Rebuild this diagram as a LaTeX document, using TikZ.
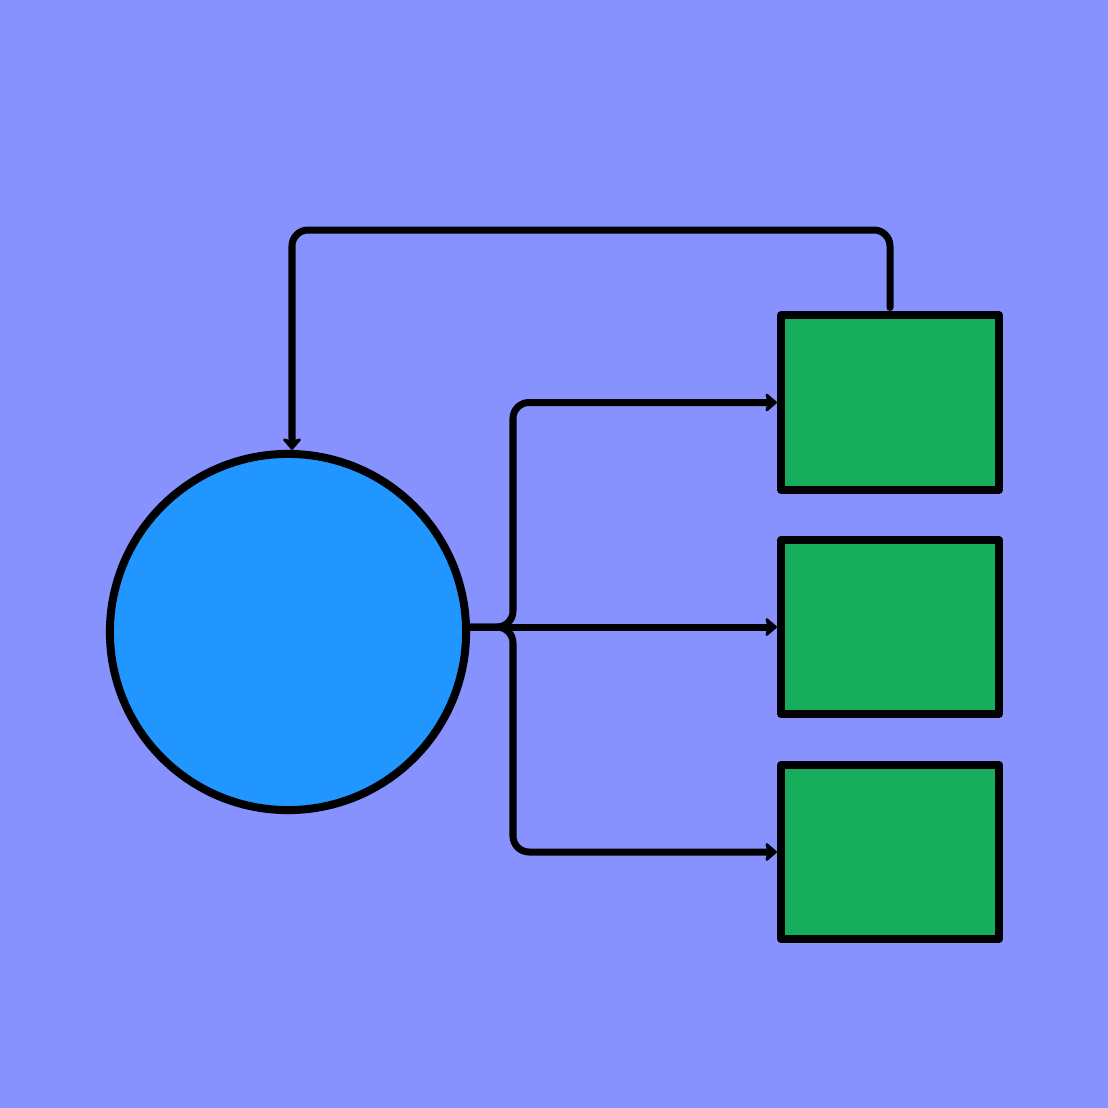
\documentclass[tikz,border=0pt]{standalone}
\usetikzlibrary{arrows.meta}
\definecolor{bgcol}{HTML}{8892FF}
\definecolor{circcol}{HTML}{2196FF}
\definecolor{boxcol}{HTML}{16AD5C}
\begin{document}
\begin{tikzpicture}[x=0.01cm,y=-0.01cm,
  boxnode/.style={draw=black, fill=boxcol, line width=0.08cm, line join=round, minimum width=2.18cm, minimum height=1.74cm, inner sep=0pt},
  circnode/.style={draw=black, fill=circcol, circle, line width=0.08cm, minimum size=3.56cm, inner sep=0pt},
  conn/.style={draw=black, line width=0.07cm, rounded corners=0.16cm, line cap=round, -{Stealth[round,length=0.13cm,width=0.22cm,inset=0.03cm,line width=0.06cm]}}]
\fill[bgcol] (0,0) rectangle (1108,1108);
\useasboundingbox (0,0) rectangle (1108,1108);
\node[circnode] (c) at (288,632) {};
\node[boxnode] (b1) at (890,402.5) {};
\node[boxnode] (b2) at (890,627) {};
\node[boxnode] (b3) at (890,852) {};
\coordinate (j) at (513,628);
\coordinate (top) at (292,230);
\draw[conn] (c.east |- b2.west) -- (b2.west);
\draw[conn] (c.east |- b2.west) -- (j |- b2.west) -- (j |- b1.west) -- (b1.west);
\draw[conn] (c.east |- b2.west) -- (j |- b2.west) -- (j |- b3.west) -- (b3.west);
\draw[conn] ([yshift=0.04cm]b1.north) -- (b1.north |- top) -- (top) -- ([xshift=0.04cm]c.north);
\end{tikzpicture}
\end{document}
